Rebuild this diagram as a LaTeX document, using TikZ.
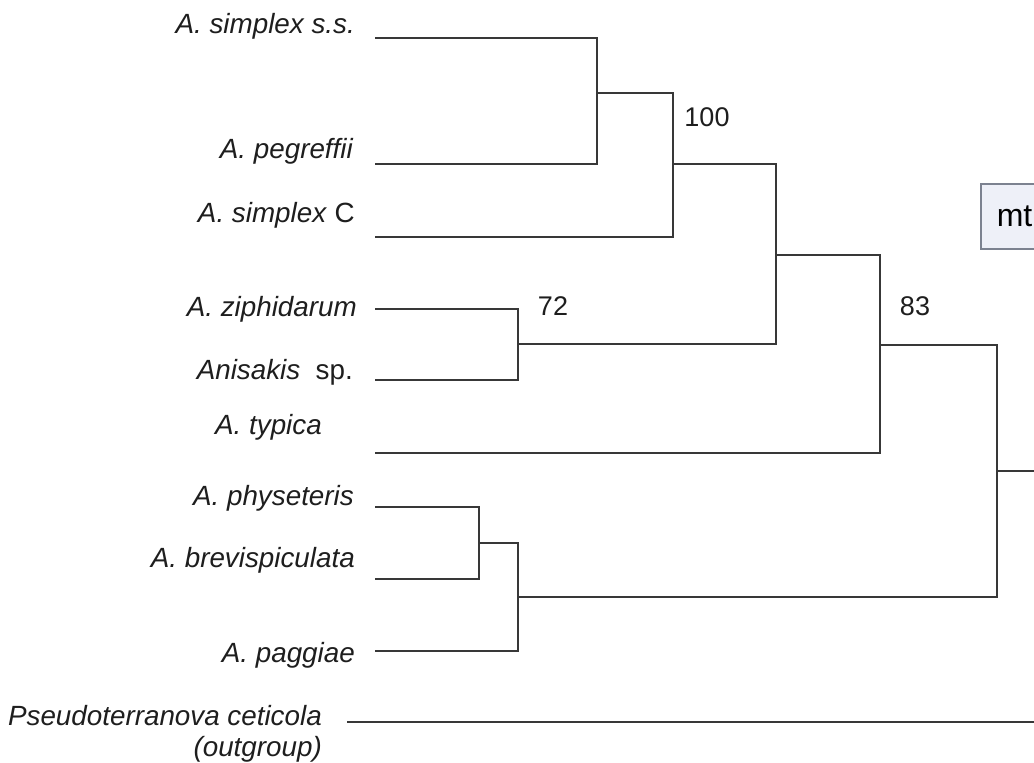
\documentclass[tikz,border=0pt]{standalone}
\usepackage{fontspec}
\setmainfont{Liberation Sans}
\definecolor{branchcol}{HTML}{383838}
\definecolor{txtcol}{HTML}{1E1E1E}
\definecolor{boxfill}{HTML}{EEF0F8}
\definecolor{boxdraw}{HTML}{7C8290}
\tikzset{
  branch/.style={draw=branchcol, line width=2.2pt, line cap=rect},
  lbl/.style={font=\fontsize{27.8}{32}\selectfont\itshape, text=txtcol, inner sep=0pt, anchor=base east},
  boot/.style={font=\fontsize{27}{32}\selectfont, text=txtcol, inner sep=0pt, anchor=center},
  mtbox/.style={draw=boxdraw, fill=boxfill, line width=1.5pt, font=\fontsize{32}{36}\selectfont, text=black,
    anchor=north west, minimum height=65pt, text width=60pt, inner xsep=16pt, align=left}
}
\begin{document}
\begin{tikzpicture}[x=1pt,y=-1pt]
\useasboundingbox (0,0) rectangle (1034,763);
\fill[white] (0,0) rectangle (1034,763);

% leaf starts
\coordinate (l1) at (376,38);
\coordinate (l2) at (376,164);
\coordinate (l3) at (376,237);
\coordinate (l4) at (376,309);
\coordinate (l5) at (376,380);
\coordinate (l6) at (376,453);
\coordinate (l7) at (376,507);
\coordinate (l8) at (376,579);
\coordinate (l9) at (376,651);
\coordinate (l10) at (348,722);
% internal nodes
\coordinate (n1) at (597,93);
\coordinate (n2) at (673,164);
\coordinate (n3) at (518,344);
\coordinate (n4) at (776,255);
\coordinate (n5) at (880,345);
\coordinate (n6) at (479,543);
\coordinate (n7) at (518,597);
\coordinate (n8) at (997,471);
\coordinate (root) at (1040,471);
\coordinate (rootout) at (1040,722);

% mt box
\node[mtbox] (mt) at (980,183) {mt};

% branches
\draw[branch] (l1) -| (n1) |- (l2);
\draw[branch] (n1) -| (n2) |- (l3);
\draw[branch] (l4) -| (n3) |- (l5);
\draw[branch] (n2) -| (n4) |- (n3);
\draw[branch] (n4) -| (n5) |- (l6);
\draw[branch] (l7) -| (n6) |- (l8);
\draw[branch] (n6) -| (n7) |- (l9);
\draw[branch] (n5) -| (n8) |- (n7);
\draw[branch] (n8) -- (root);
\draw[branch] (l10) -- (rootout);

% bootstrap values
\node[boot] (b100) at (707,117) {100};
\node[boot] (b72) at (553,306) {72};
\node[boot] (b83) at (915,306) {83};

% taxon labels
\node[lbl] (t1) at (355,33) {A. simplex s.s.};
\node[lbl] (t2) at (353,158) {A. pegreffii};
\node[lbl] (t3) at (355,222) {A. simplex\/ \upshape C};
\node[lbl] (t4) at (357,316) {A. ziphidarum};
\node[lbl] (t5) at (353,379) {Anisakis\/\ \ \upshape sp.};
\node[lbl] (t6) at (322,434) {A. typica};
\node[lbl] (t7) at (354,505) {A. physeteris};
\node[lbl] (t8) at (355,567) {A. brevispiculata};
\node[lbl] (t9) at (355,662) {A. paggiae};
\node[lbl] (t10) at (322,725) {Pseudoterranova ceticola};
\node[lbl] (t11) at (322,756) {(outgroup)};
\end{tikzpicture}
\end{document}
